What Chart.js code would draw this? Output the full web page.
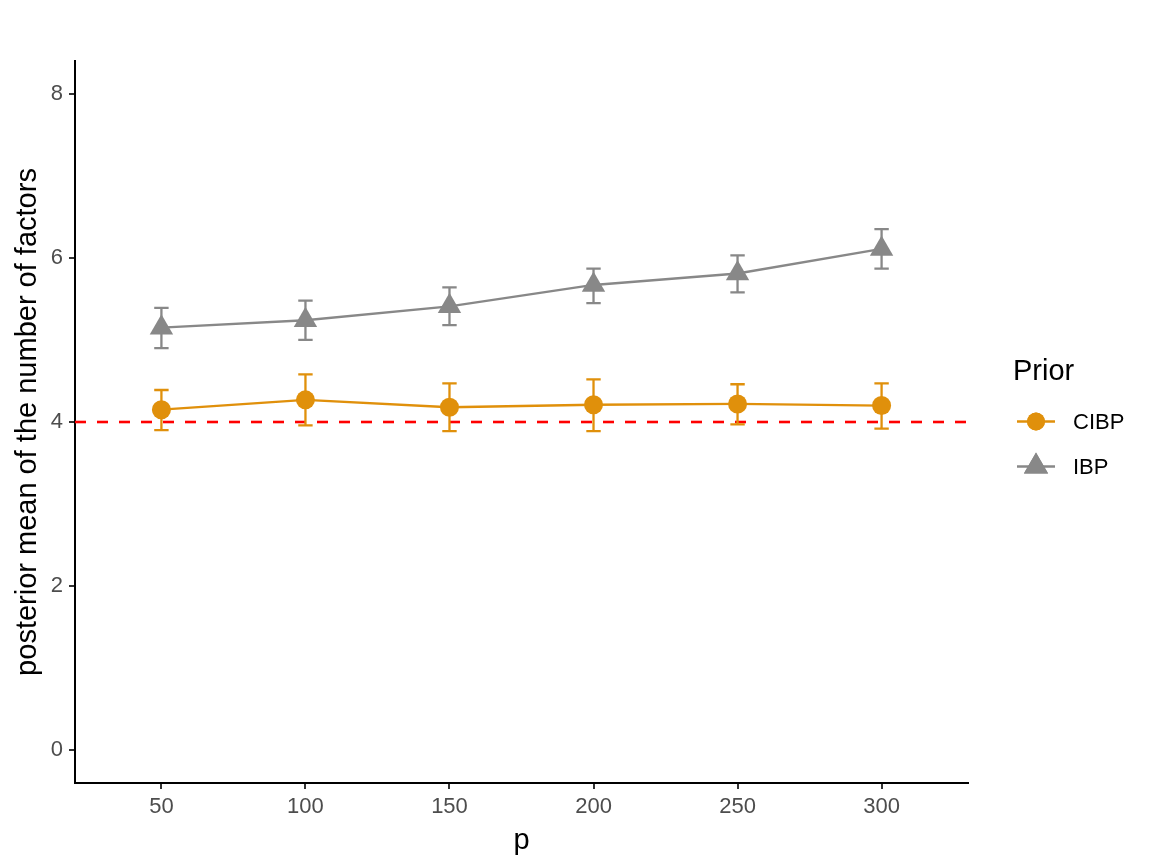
<!DOCTYPE html>
<html>
<head>
<meta charset="utf-8">
<script src="https://cdn.jsdelivr.net/npm/chart.js@4/dist/chart.umd.min.js"></script>
<style>
  html, body { margin: 0; padding: 0; background: #fff; }
  #wrap { width: 1158px; height: 868px; }
</style>
</head>
<body>
<div id="wrap"><canvas id="chart" width="1158" height="868"></canvas></div>
<script>
// data
const pValues = [50, 100, 150, 200, 250, 300];
const cibpMean  = [4.15, 4.27, 4.18, 4.21, 4.22, 4.20];
const cibpLower = [3.90, 3.96, 3.89, 3.89, 3.97, 3.92];
const cibpUpper = [4.39, 4.58, 4.47, 4.52, 4.46, 4.47];
const ibpMean  = [5.15, 5.24, 5.41, 5.67, 5.81, 6.11];
const ibpLower = [4.90, 5.00, 5.18, 5.45, 5.58, 5.87];
const ibpUpper = [5.39, 5.48, 5.64, 5.87, 6.03, 6.35];
const xTicks = [50, 100, 150, 200, 250, 300];
const yTicks = [0, 2, 4, 6, 8];
const trueFactors = 4;
const legendTitle = "Prior";
const seriesNames = ["CIBP", "IBP"];

const ORANGE = "#E0900B";
const GREY = "#888888";
const FONT = "'Liberation Sans', Arial, Helvetica, sans-serif";

Chart.defaults.font.family = FONT;

const toPoints = (ys) => pValues.map((p, i) => ({ x: p, y: ys[i] }));

// dashed reference line + error bars, drawn under the series
const errorBarPlugin = {
  id: "errorBars",
  beforeDatasetsDraw(chart) {
    const { ctx, chartArea, scales: { x, y } } = chart;

    ctx.save();
    ctx.strokeStyle = "#FF0000";
    ctx.lineWidth = 2.6;
    ctx.setLineDash([11, 11]);
    ctx.beginPath();
    ctx.moveTo(chartArea.left, y.getPixelForValue(trueFactors));
    ctx.lineTo(chartArea.right, y.getPixelForValue(trueFactors));
    ctx.stroke();
    ctx.restore();

    const bars = [
      { lo: cibpLower, hi: cibpUpper, color: ORANGE },
      { lo: ibpLower, hi: ibpUpper, color: GREY }
    ];
    ctx.save();
    ctx.lineWidth = 2.3;
    bars.forEach(b => {
      ctx.strokeStyle = b.color;
      pValues.forEach((p, i) => {
        const px = x.getPixelForValue(p);
        const x0 = x.getPixelForValue(p - 2.5);
        const x1 = x.getPixelForValue(p + 2.5);
        const yl = y.getPixelForValue(b.lo[i]);
        const yh = y.getPixelForValue(b.hi[i]);
        ctx.beginPath();
        ctx.moveTo(px, yl); ctx.lineTo(px, yh);
        ctx.moveTo(x0, yl); ctx.lineTo(x1, yl);
        ctx.moveTo(x0, yh); ctx.lineTo(x1, yh);
        ctx.stroke();
      });
    });
    ctx.restore();
  }
};

// ggplot style legend on the right
const legendPlugin = {
  id: "sideLegend",
  afterDraw(chart) {
    const { ctx } = chart;
    ctx.save();
    ctx.fillStyle = "#000";
    ctx.font = "29px " + FONT;
    ctx.textAlign = "left";
    ctx.textBaseline = "middle";
    ctx.fillText(legendTitle, 1013, 372);

    chart.data.datasets.forEach((ds, i) => {
      const cy = 421.5 + i * 45;
      ctx.strokeStyle = ds.borderColor;
      ctx.lineWidth = 2.3;
      ctx.beginPath();
      ctx.moveTo(1017, cy);
      ctx.lineTo(1055, cy);
      ctx.stroke();
      ctx.fillStyle = ds.backgroundColor;
      Chart.helpers.drawPoint(ctx, {
        pointStyle: ds.pointStyle,
        radius: ds.pointStyle === "triangle" ? 14 : 9,
        borderWidth: 0
      }, 1036, cy);
      ctx.fill();
      ctx.fillStyle = "#000";
      ctx.font = "22px " + FONT;
      ctx.fillText(seriesNames[i], 1073, cy + 1);
    });
    ctx.restore();
  }
};

new Chart(document.getElementById("chart"), {
  type: "line",
  data: {
    datasets: [
      {
        label: seriesNames[0],
        data: toPoints(cibpMean),
        borderColor: ORANGE,
        backgroundColor: ORANGE,
        borderWidth: 2.3,
        pointStyle: "circle",
        pointRadius: 9.5,
        pointBorderWidth: 0,
        tension: 0
      },
      {
        label: seriesNames[1],
        data: toPoints(ibpMean),
        borderColor: GREY,
        backgroundColor: GREY,
        borderWidth: 2.3,
        pointStyle: "triangle",
        pointRadius: 13.5,
        pointBorderWidth: 0,
        tension: 0
      }
    ]
  },
  options: {
    responsive: false,
    animation: false,
    clip: false,
    layout: { padding: { top: 61, right: 190, left: 0, bottom: 0 } },
    plugins: {
      legend: { display: false },
      tooltip: { enabled: false }
    },
    scales: {
      x: {
        type: "linear",
        min: 20,
        max: 330,
        afterBuildTicks: (s) => { s.ticks = xTicks.map(v => ({ value: v })); },
        afterFit: (s) => { s.height = 85; },
        grid: { drawOnChartArea: false, drawTicks: true, tickLength: 6, color: "#333333", lineWidth: 2 },
        border: { display: true, color: "#000", width: 2 },
        ticks: { color: "#4D4D4D", font: { size: 22 }, padding: 5, maxRotation: 0 },
        title: { display: true, text: "p", color: "#000", font: { size: 29 }, padding: { top: 0, bottom: 10 } }
      },
      y: {
        type: "linear",
        min: -0.4,
        max: 8.4,
        afterBuildTicks: (s) => { s.ticks = yTicks.map(v => ({ value: v })); },
        afterFit: (s) => { s.width = 75; },
        grid: { drawOnChartArea: false, drawTicks: true, tickLength: 6, color: "#333333", lineWidth: 2 },
        border: { display: true, color: "#000", width: 2 },
        ticks: { color: "#4D4D4D", font: { size: 22 }, padding: 6 },
        title: { display: true, text: "posterior mean of the number of factors", color: "#000", font: { size: 29 }, padding: { top: 11, bottom: 0 } }
      }
    }
  },
  plugins: [errorBarPlugin, legendPlugin]
});
</script>
</body>
</html>
